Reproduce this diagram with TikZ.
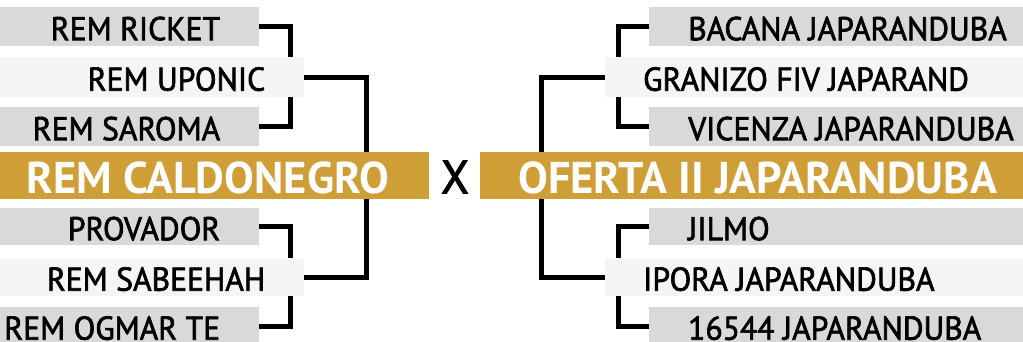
\documentclass[tikz,border=0pt]{standalone}
\usepackage{fontspec}
\setmainfont{PT Sans}
\newfontfamily\lblfont[FakeBold=2,FakeStretch=0.96]{PT Sans}
\usetikzlibrary{backgrounds}
\definecolor{boxgray}{RGB}{217,217,217}
\definecolor{boxlight}{RGB}{245,245,245}
\definecolor{goldfill}{RGB}{208,158,54}
\newcommand{\leftlbl}[3]{\makebox[#1pt][r]{#3\hspace{#2pt}}}
\newcommand{\rightlbl}[3]{\makebox[#1pt][l]{\hspace{#2pt}#3}}
\tikzset{
  lbl/.style={anchor=north west, inner sep=0pt, text height=27pt, text depth=0pt,
    font=\lblfont\fontsize{33}{33}\selectfont},
  graybox/.style={lbl, fill=boxgray},
  lightbox/.style={lbl, fill=boxlight},
  goldbox/.style={anchor=north west, inner sep=0pt, fill=goldfill, text=white,
    text height=35pt, text depth=0pt, minimum height=47pt,
    font=\bfseries\fontsize{44.5}{44.5}\selectfont},
  link/.style={draw=black, line width=5pt, line join=miter},
}
\begin{document}
\begin{tikzpicture}[x=1pt,y=-1pt]
\useasboundingbox (0,0) rectangle (1023,342);
% left side
\node[graybox, minimum height=39pt] (ricket) at (0,7) {\leftlbl{259}{39}{REM RICKET}};
\node[lightbox, minimum height=40pt] (uponic) at (0,57) {\leftlbl{304}{39}{REM UPONIC}};
\node[graybox, minimum height=39pt] (saroma) at (0,107) {\leftlbl{259}{39}{REM SAROMA}};
\node[goldbox] (caldo) at (0,152) {\leftlbl{429}{40}{REM CALDONEGRO}};
\node[graybox, minimum height=37pt] (provador) at (0,208) {\leftlbl{259}{39}{PROVADOR}};
\node[lightbox, minimum height=38pt] (sabeehah) at (0,258) {\leftlbl{304}{39}{REM SABEEHAH}};
\node[graybox, minimum height=38pt] (ogmar) at (0,307) {\leftlbl{259}{39}{REM OGMAR TE}};
% centre
\node[inner sep=0pt, font=\lblfont\fontsize{47}{47}\selectfont] (vs) at (455,177) {X};
% right side
\node[graybox, minimum height=39pt] (bacana) at (649,7) {\rightlbl{374}{39}{BACANA JAPARANDUBA}};
\node[lightbox, minimum height=40pt] (granizo) at (605,57) {\rightlbl{418}{38}{GRANIZO FIV JAPARAND}};
\node[graybox, minimum height=39pt] (vicenza) at (649,107) {\rightlbl{374}{39}{VICENZA JAPARANDUBA}};
\node[goldbox] (oferta) at (480,152) {\rightlbl{543}{38}{OFERTA II JAPARANDUBA}};
\node[graybox, minimum height=37pt] (jilmo) at (649,208) {\rightlbl{374}{39}{JILMO}};
\node[lightbox, minimum height=38pt] (ipora) at (605,258) {\rightlbl{418}{38}{IPORA JAPARANDUBA}};
\node[graybox, minimum height=38pt] (n16544) at (649,307) {\rightlbl{374}{39}{16544 JAPARANDUBA}};
% guide coordinates for connector columns
\coordinate (lbx) at (290,0);
\coordinate (lvx) at (366,0);
\coordinate (rbx) at (618,0);
\coordinate (rvx) at (541,0);
\begin{scope}[on background layer]
\draw[link] (ricket.east) -- (ricket.east -| lbx) -- (saroma.east -| lbx) -- (saroma.east);
\draw[link] (uponic.east) -- (uponic.east -| lvx) -- (caldo.north -| lvx);
\draw[link] (provador.east) -- (provador.east -| lbx) -- (ogmar.east -| lbx) -- (ogmar.east);
\draw[link] (sabeehah.east) -- (sabeehah.east -| lvx) -- (caldo.south -| lvx);
\draw[link] (bacana.west) -- (bacana.west -| rbx) -- (vicenza.west -| rbx) -- (vicenza.west);
\draw[link] (granizo.west) -- (granizo.west -| rvx) -- (oferta.north -| rvx);
\draw[link] (jilmo.west) -- (jilmo.west -| rbx) -- (n16544.west -| rbx) -- (n16544.west);
\draw[link] (ipora.west) -- (ipora.west -| rvx) -- (oferta.south -| rvx);
\end{scope}
\end{tikzpicture}
\end{document}
